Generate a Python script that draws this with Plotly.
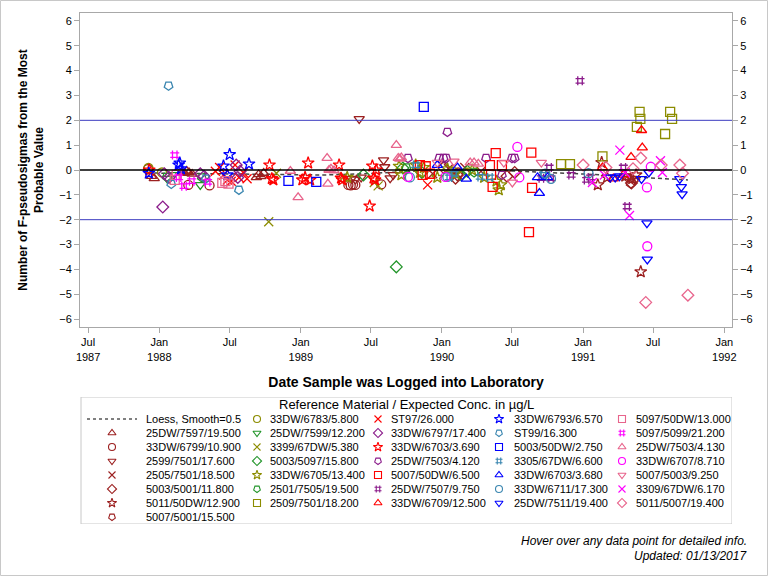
import plotly.graph_objects as go

# ---------------- data ----------------
loess_dates = ['1987-12-01', '1988-03-01', '1988-06-01', '1988-09-01', '1988-12-01', '1989-03-01',
               '1989-06-01', '1989-09-01', '1989-12-01', '1990-03-01', '1990-06-01', '1990-09-01',
               '1990-12-01', '1991-03-01', '1991-06-01', '1991-09-29']
loess_vals = [-0.12, -0.14, -0.16, -0.18, -0.2, -0.2, -0.16, -0.08, -0.02, 0.0, -0.02, -0.08,
              -0.14, -0.2, -0.3, -0.4]

series_names = [
    '25DW/7597/19.500', '33DW/6799/10.900', '2599/7501/17.600', '2505/7501/18.500',
    '5003/5001/11.800', '5011/50DW/12.900', '5007/5001/15.500',
    '33DW/6783/5.800', '25DW/7599/12.200', '3399/67DW/5.380', '5003/5097/15.800',
    '33DW/6705/13.400', '2501/7505/19.500', '2509/7501/18.200',
    'ST97/26.000', '33DW/6797/17.400', '33DW/6703/3.690', '25DW/7503/4.120',
    '5007/50DW/6.500', '25DW/7507/9.750', '33DW/6709/12.500',
    '33DW/6793/6.570', 'ST99/16.300', '5003/50DW/2.750', '3305/67DW/6.600',
    '33DW/6703/3.680', '33DW/6711/17.300', '25DW/7511/19.400',
    '5097/50DW/13.000', '5097/5099/21.200', '25DW/7503/4.130', '33DW/6707/8.710',
    '5007/5003/9.250', '3309/67DW/6.170', '5011/5007/19.400',
]

s01_dates = ['1987-12-12', '1987-12-19', '1988-02-28', '1988-03-06', '1988-03-12', '1988-03-18',
             '1988-03-26', '1988-09-08', '1988-09-14', '1988-09-20', '1988-09-27']
s01_vals = [-0.25, -0.34, -0.08, -0.12, -0.04, -0.1, -0.16, -0.3, -0.18, -0.26, -0.12]
s02_dates = ['1987-12-03', '1988-03-16', '1988-05-10', '1989-05-04', '1989-05-10', '1989-05-16',
             '1989-05-22', '1989-07-28', '1990-02-12']
s02_vals = [0.04, -0.6, -0.62, -0.6, -0.62, -0.58, -0.6, -0.58, -0.1]
s03_dates = ['1989-05-12', '1989-05-22', '1989-06-01', '1989-06-06', '1989-08-03', '1989-08-06',
             '1989-08-20', '1989-08-28']
s03_vals = [-0.35, -0.38, 2.06, -0.3, 0.4, 0.12, -0.33, -0.2]
s04_dates = ['1989-12-08', '1990-01-18', '1990-02-08', '1990-03-01', '1990-04-12']
s04_vals = [-0.15, 0.05, -0.2, 0.1, -0.05]
s05_dates = ['1990-01-05', '1990-02-05', '1990-02-10', '1990-06-18', '1990-07-08', '1991-05-06']
s05_vals = [0.1, -0.33, -0.2, -0.25, -0.1, -0.52]
s06_dates = ['1991-02-08', '1991-02-18', '1991-03-04', '1991-04-20', '1991-05-08', '1991-05-18',
             '1991-05-30']
s06_vals = [-0.6, 0.3, -0.3, -0.25, -0.35, -0.2, -4.1]
s07_dates = ['1991-04-26', '1991-05-04', '1991-05-12']
s07_vals = [-0.3, -0.55, -0.4]
s08_dates = ['1987-12-04', '1988-01-08']
s08_vals = [0.08, -0.1]
s09_dates = ['1988-01-22', '1988-02-06', '1988-04-16']
s09_vals = [-0.35, -0.2, -0.6]
s10_dates = ['1988-10-10', '1988-10-30', '1989-04-20', '1989-07-10', '1989-07-20']
s10_vals = [-2.08, -0.13, -0.3, -0.5, -0.64]
s11_dates = ['1989-06-12', '1989-09-05', '1989-09-22', '1989-11-10', '1990-02-20', '1990-03-08']
s11_vals = [-0.2, -3.9, 0.08, -0.1, -0.2, -0.05]
s12_dates = ['1989-05-01', '1989-09-12', '1989-09-18', '1989-10-25', '1989-11-05', '1989-11-15',
             '1989-12-20', '1990-01-15', '1990-02-05', '1990-03-20', '1990-04-20', '1990-05-22',
             '1990-05-28', '1990-06-02']
s12_vals = [-0.3, 0.15, -0.2, 0.2, -0.1, 0.1, -0.3, 0.05, -0.15, 0.0, -0.3, -0.45, -0.8, -0.6]
s13_dates = ['1988-01-20', '1988-04-20', '1989-10-01', '1990-03-25']
s13_vals = [-0.28, -0.3, 0.1, -0.1]
s14_dates = ['1990-11-05', '1990-11-28', '1991-02-20', '1991-05-20', '1991-05-27', '1991-05-29',
             '1991-08-01', '1991-08-14', '1991-08-19']
s14_vals = [0.24, 0.24, 0.55, 1.74, 2.34, 2.06, 1.45, 2.34, 2.06]
s15_dates = ['1988-05-25', '1988-06-05', '1988-06-15', '1988-06-25', '1988-07-05', '1988-07-15',
             '1988-07-25', '1988-08-05', '1988-08-15', '1989-11-25']
s15_vals = [-0.05, 0.1, -0.2, -0.4, -0.45, 0.2, -0.3, -0.1, -0.35, -0.6]
s16_dates = ['1988-01-10', '1988-01-14', '1988-01-26', '1988-04-16', '1988-04-26', '1988-07-18',
             '1988-07-22', '1988-07-28']
s16_vals = [-1.49, -0.15, -0.3, -0.15, -0.25, 0.2, -0.3, -0.05]
s17_dates = ['1987-12-06', '1988-10-12', '1988-10-18', '1988-10-22', '1989-01-05', '1989-01-12',
             '1989-01-20', '1989-01-25', '1989-04-10', '1989-04-15', '1989-04-18', '1989-06-28',
             '1989-07-05', '1989-07-08', '1989-07-12', '1989-07-15']
s17_vals = [0.0, 0.2, -0.35, -0.4, -0.4, -0.3, 0.28, -0.4, 0.2, -0.33, -0.4, -1.45, 0.16, -0.33,
            -0.4, 0.0]
s18_dates = ['1989-10-05', '1989-12-25', '1990-01-05', '1990-01-12', '1990-01-15', '1990-04-25',
             '1990-06-05', '1990-07-01', '1990-07-08']
s18_vals = [0.48, 0.48, 0.48, 0.48, 1.53, 0.48, -0.2, 0.48, 0.48]
s19_dates = ['1989-11-05', '1989-11-12', '1989-11-20', '1989-12-01', '1990-05-05', '1990-05-08',
             '1990-05-12', '1990-05-20', '1990-06-05', '1990-08-14', '1990-08-20', '1990-08-22']
s19_vals = [0.2, -0.2, 0.15, -0.15, 0.2, -0.2, -0.68, 0.68, 0.2, -2.5, 0.7, -0.72]
s20_dates = ['1990-09-15', '1990-10-05', '1990-10-10', '1990-12-01', '1990-12-24', '1991-01-10',
             '1991-01-20', '1991-04-15', '1991-04-25']
s20_vals = [-0.33, 0.1, -0.33, -0.2, 3.59, -0.4, -0.3, 0.1, -1.47]
s21_dates = ['1991-02-20', '1991-03-20', '1991-04-15', '1991-05-05', '1991-06-01', '1991-06-03']
s21_vals = [0.1, -0.35, -0.2, 0.52, 1.6, 0.9]
s22_dates = ['1987-12-05', '1988-02-20', '1988-02-23', '1988-02-26', '1988-06-15', '1988-06-25',
             '1988-07-01', '1988-08-20']
s22_vals = [-0.13, 0.2, 0.28, 0.05, 0.16, -0.2, 0.62, 0.24]
s23_dates = ['1988-01-25', '1988-02-01', '1988-04-30', '1988-07-25']
s23_vals = [3.39, -0.56, -0.35, -0.8]
s24_dates = ['1988-11-30', '1989-02-10', '1989-11-15']
s24_vals = [-0.44, -0.48, 2.54]
s25_dates = ['1989-10-25', '1990-01-20', '1990-02-01', '1990-04-10', '1990-05-05', '1990-09-20']
s25_vals = [0.2, -0.3, -0.15, -0.28, -0.3, -0.2]
s26_dates = ['1989-12-20', '1990-02-10', '1990-03-05', '1990-09-05', '1990-09-10', '1990-10-01']
s26_vals = [0.2, 0.1, -0.36, -0.3, -0.93, -0.3]
s27_dates = ['1989-10-10', '1990-01-15', '1990-09-25', '1990-10-10', '1991-01-15']
s27_vals = [-0.3, -0.28, -0.15, -0.36, -0.13]
s28_dates = ['1991-03-12', '1991-03-25', '1991-04-05', '1991-06-01', '1991-06-15', '1991-06-16',
             '1991-06-20', '1991-09-08', '1991-09-12', '1991-09-14']
s28_vals = [-0.3, -0.3, -0.25, -0.36, -2.14, -3.6, -0.1, -0.36, -0.68, -0.97]
s29_dates = ['1988-02-10', '1988-02-15', '1988-06-12', '1988-06-20', '1988-06-28']
s29_vals = [-0.4, -0.2, -0.52, -0.45, -0.55]
s30_dates = ['1988-02-10', '1988-02-20', '1988-03-05', '1988-03-25', '1988-05-05']
s30_vals = [0.6, -0.3, -0.65, -0.45, -0.48]
s31_dates = ['1988-12-05', '1988-12-25', '1989-03-10', '1989-03-12', '1989-03-15', '1989-03-20',
             '1989-03-28', '1989-09-05', '1989-09-10', '1989-09-14', '1989-09-18', '1990-03-15',
             '1990-03-25', '1990-04-05']
s31_vals = [-0.04, -1.1, 0.48, -0.56, 0.0, 0.05, -0.02, 1.0, 0.48, 0.45, 0.5, 0.3, 0.3, 0.25]
s32_dates = ['1989-10-05', '1990-01-10', '1990-07-15', '1990-07-20', '1991-06-15', '1991-06-16',
             '1991-06-25']
s32_vals = [-0.28, -0.28, 0.93, -0.3, -0.7, -3.07, 0.13]
s33_dates = ['1989-12-20', '1990-02-01', '1990-06-10', '1990-07-02', '1990-09-15']
s33_vals = [0.3, 0.35, 0.3, -0.5, 0.3]
s34_dates = ['1991-01-25', '1991-02-25', '1991-04-06', '1991-04-20', '1991-05-01', '1991-07-20',
             '1991-07-25']
s34_vals = [-0.5, -0.2, 0.8, -0.1, -1.83, 0.37, -0.1]
s35_dates = ['1991-01-01', '1991-03-01', '1991-05-10', '1991-05-30', '1991-06-12', '1991-07-22',
             '1991-09-08', '1991-09-15', '1991-09-29']
s35_vals = [0.2, 0.1, 0.05, 0.48, -5.33, 0.2, 0.2, -0.13, -5.04]

x_tick_dates = ['1987-07-01', '1988-01-01', '1988-07-01', '1989-01-01', '1989-07-01',
                '1990-01-01', '1990-07-01', '1991-01-01', '1991-07-01', '1992-01-01']
x_tick_text = ['Jul<br>1987', 'Jan<br>1988', 'Jul', 'Jan<br>1989', 'Jul',
               'Jan<br>1990', 'Jul', 'Jan<br>1991', 'Jul', 'Jan<br>1992']
y_ticks = [-6, -5, -4, -3, -2, -1, 0, 1, 2, 3, 4, 5, 6]

# ---------------- styles ----------------
DARKRED, OLIVE, GREEN = '#9C2020', '#8C8C00', '#22952A'
RED, PURPLE = '#FF0000', '#8B1C8B'
BLUE, TEAL = '#0000FF', '#3A86B0'
PINK, MAGENTA = '#E8648C', '#FF00FF'
series_colors = [DARKRED] * 7 + [OLIVE, GREEN, OLIVE, GREEN, OLIVE, GREEN, OLIVE] + \
                [RED, PURPLE, RED, PURPLE, RED, PURPLE, RED] + \
                [BLUE, TEAL, BLUE, TEAL, BLUE, TEAL, BLUE] + \
                [PINK, MAGENTA, PINK, MAGENTA, PINK, MAGENTA, PINK]
SHIELD = 'pentagon-open'
series_symbols = ['triangle-up-open', 'circle-open', 'triangle-down-open', 'x-thin-open',
                  'diamond-open', 'star-open', SHIELD,
                  'circle-open', 'triangle-down-open', 'x-thin-open', 'diamond-open',
                  'star-open', SHIELD, 'square-open',
                  'x-thin-open', 'diamond-open', 'star-open', SHIELD, 'square-open',
                  'hash-open', 'triangle-up-open',
                  'star-open', SHIELD, 'square-open', 'hash-open', 'triangle-up-open',
                  'circle-open', 'triangle-down-open',
                  'square-open', 'hash-open', 'triangle-up-open', 'circle-open',
                  'triangle-down-open', 'x-thin-open', 'diamond-open']
series_angles = [180 if s == SHIELD else 0 for s in series_symbols]

series_data = [
    (s01_dates, s01_vals), (s02_dates, s02_vals), (s03_dates, s03_vals), (s04_dates, s04_vals),
    (s05_dates, s05_vals), (s06_dates, s06_vals), (s07_dates, s07_vals), (s08_dates, s08_vals),
    (s09_dates, s09_vals), (s10_dates, s10_vals), (s11_dates, s11_vals), (s12_dates, s12_vals),
    (s13_dates, s13_vals), (s14_dates, s14_vals), (s15_dates, s15_vals), (s16_dates, s16_vals),
    (s17_dates, s17_vals), (s18_dates, s18_vals), (s19_dates, s19_vals), (s20_dates, s20_vals),
    (s21_dates, s21_vals), (s22_dates, s22_vals), (s23_dates, s23_vals), (s24_dates, s24_vals),
    (s25_dates, s25_vals), (s26_dates, s26_vals), (s27_dates, s27_vals), (s28_dates, s28_vals),
    (s29_dates, s29_vals), (s30_dates, s30_vals), (s31_dates, s31_vals), (s32_dates, s32_vals),
    (s33_dates, s33_vals), (s34_dates, s34_vals), (s35_dates, s35_vals),
]

# ---------------- layout geometry (pixels) ----------------
W, H = 768, 576
ML, MR, MT, MB = 80, 36, 13, 52
PW, PH = W - ML - MR, H - MT - MB
PLOT_BOTTOM = 327
LEG_TOP, LEG_BOTTOM = 397, 524
FONT = 'Liberation Sans, Arial, sans-serif'
FRAME = '#A8A8A8'


def pxx(px):
    return (px - ML) / PW


def pxy(py):
    return (H - MB - py) / PH


fig = go.Figure()

# loess
fig.add_trace(go.Scatter(x=loess_dates, y=loess_vals, mode='lines', name='Loess, Smooth=0.5',
                         line=dict(color='#444444', width=1.5, dash='4px,3px'),
                         hoverinfo='skip', showlegend=False))

for name, (d, v), c, s, a in zip(series_names, series_data, series_colors, series_symbols,
                                  series_angles):
    fig.add_trace(go.Scatter(
        x=d, y=v, mode='markers', name=name, showlegend=False,
        marker=dict(symbol=s, color=c, size=9, angle=a, line=dict(width=1.3, color=c)),
        hovertemplate=name + '<br>%{x|%m/%d/%Y}<br>%{y:.2f}<extra></extra>'))

# invisible trace so the right-hand axis is drawn
fig.add_trace(go.Scatter(x=[loess_dates[0]], y=[loess_vals[0]], yaxis='y2', mode='markers',
                         marker=dict(opacity=0), hoverinfo='skip', showlegend=False))

# ---------------- custom legend (its own hidden axes) ----------------
LW, LH = 652, LEG_BOTTOM - LEG_TOP
col_marker_x = [32, 177, 298, 419, 542]
col_text_x = [64, 188, 309, 432, 554]
row0_y, row_gap = 22, 14
entries = [('Loess', 0, 0)]
idx = 0
for col, nrows, start in [(0, 7, 1), (1, 7, 0), (2, 7, 0), (3, 7, 0), (4, 7, 0)]:
    for r in range(nrows):
        entries.append((idx, col, start + r))
        idx += 1

leg_x, leg_y, leg_sym, leg_col, leg_ang = [], [], [], [], []
annotations = []
for key, col, row in entries:
    yy = row0_y + row_gap * row
    if key == 'Loess':
        label = 'Loess, Smooth=0.5'
    else:
        label = series_names[key]
        leg_x.append(col_marker_x[col])
        leg_y.append(yy)
        leg_sym.append(series_symbols[key])
        leg_col.append(series_colors[key])
        leg_ang.append(series_angles[key])
    annotations.append(dict(x=col_text_x[col], y=yy, xref='x3', yref='y3', text=label,
                            showarrow=False, xanchor='left', yanchor='middle',
                            font=dict(family=FONT, size=11, color='#000000')))

fig.add_trace(go.Scatter(x=[7, 57], y=[row0_y, row0_y], xaxis='x3', yaxis='y3', mode='lines',
                         line=dict(color='#000000', width=1, dash='3px,3px'),
                         hoverinfo='skip', showlegend=False))
fig.add_trace(go.Scatter(x=leg_x, y=leg_y, xaxis='x3', yaxis='y3', mode='markers',
                         marker=dict(symbol=leg_sym, color=leg_col, angle=leg_ang, size=7,
                                     line=dict(width=1.1)),
                         hoverinfo='skip', showlegend=False))

annotations.append(dict(x=LW / 2, y=7, xref='x3', yref='y3',
                        text='Reference Material / Expected Conc. in µg/L', showarrow=False,
                        xanchor='center', yanchor='middle',
                        font=dict(family=FONT, size=13, color='#000000')))
annotations.append(dict(x=pxx(749), y=pxy(541), xref='paper', yref='paper',
                        text='<i>Hover over any data point for detailed info.</i>',
                        showarrow=False, xanchor='right', yanchor='middle',
                        font=dict(family=FONT, size=12, color='#000000')))
annotations.append(dict(x=pxx(749), y=pxy(556), xref='paper', yref='paper',
                        text='<i>Updated: 01/13/2017</i>',
                        showarrow=False, xanchor='right', yanchor='middle',
                        font=dict(family=FONT, size=12, color='#000000')))

shapes = [
    dict(type='line', xref='paper', yref='y', x0=0, x1=1, y0=2, y1=2,
         line=dict(color='#3C3CC0', width=1)),
    dict(type='line', xref='paper', yref='y', x0=0, x1=1, y0=-2, y1=-2,
         line=dict(color='#3C3CC0', width=1)),
    dict(type='line', xref='paper', yref='y', x0=0, x1=1, y0=0, y1=0,
         line=dict(color='#000000', width=1.5)),
    dict(type='rect', xref='x3', yref='y3', x0=1, x1=LW, y0=0, y1=LH,
         line=dict(color='#C8C8C8', width=1)),
    dict(type='rect', xref='paper', yref='paper', x0=pxx(0.5), x1=pxx(767.5),
         y0=pxy(575.5), y1=pxy(0.5), line=dict(color='#C8C8C8', width=1), layer='below'),
]

tick_font = dict(family=FONT, size=11, color='#000000')
y_dom = [pxy(PLOT_BOTTOM), 1]
fig.update_layout(
    width=W, height=H, margin=dict(l=ML, r=MR, t=MT, b=MB),
    paper_bgcolor='white', plot_bgcolor='white', hovermode='closest', showlegend=False,
    font=dict(family=FONT, size=11, color='#000000'),
    xaxis=dict(type='date', domain=[0, 1], anchor='y',
               range=['1987-06-10', '1992-01-21'], tickvals=x_tick_dates, ticktext=x_tick_text,
               ticks='outside', ticklen=5, tickcolor=FRAME, showline=True, linecolor=FRAME,
               mirror=True, showgrid=False, zeroline=False, tickfont=tick_font,
               title=dict(text='Date Sample was Logged into Laboratory', standoff=15,
                          font=dict(family=FONT, size=14, weight='bold'))),
    yaxis=dict(domain=y_dom, anchor='x', range=[-6.32, 6.32], tickvals=y_ticks,
               ticks='outside', ticklen=5, tickcolor=FRAME, showline=True, linecolor=FRAME,
               mirror=True, showgrid=False, zeroline=False, tickfont=tick_font,
               title=dict(text='Number of F-pseudosigmas from the Most<br>Probable Value',
                          standoff=13, font=dict(family=FONT, size=12, weight='bold'))),
    yaxis2=dict(overlaying='y', side='right', anchor='x', range=[-6.32, 6.32],
                tickvals=y_ticks, ticks='outside', ticklen=5, tickcolor=FRAME,
                showline=False, showgrid=False, zeroline=False, tickfont=tick_font),
    xaxis3=dict(domain=[0, 1], anchor='y3', range=[0, LW], visible=False, fixedrange=True),
    yaxis3=dict(domain=[0, pxy(LEG_TOP)], anchor='x3', range=[LH, 0], visible=False,
                fixedrange=True),
    annotations=annotations, shapes=shapes,
)

fig.write_html('out.html', config={'displayModeBar': False},
               post_script="document.body.style.margin='0';")
